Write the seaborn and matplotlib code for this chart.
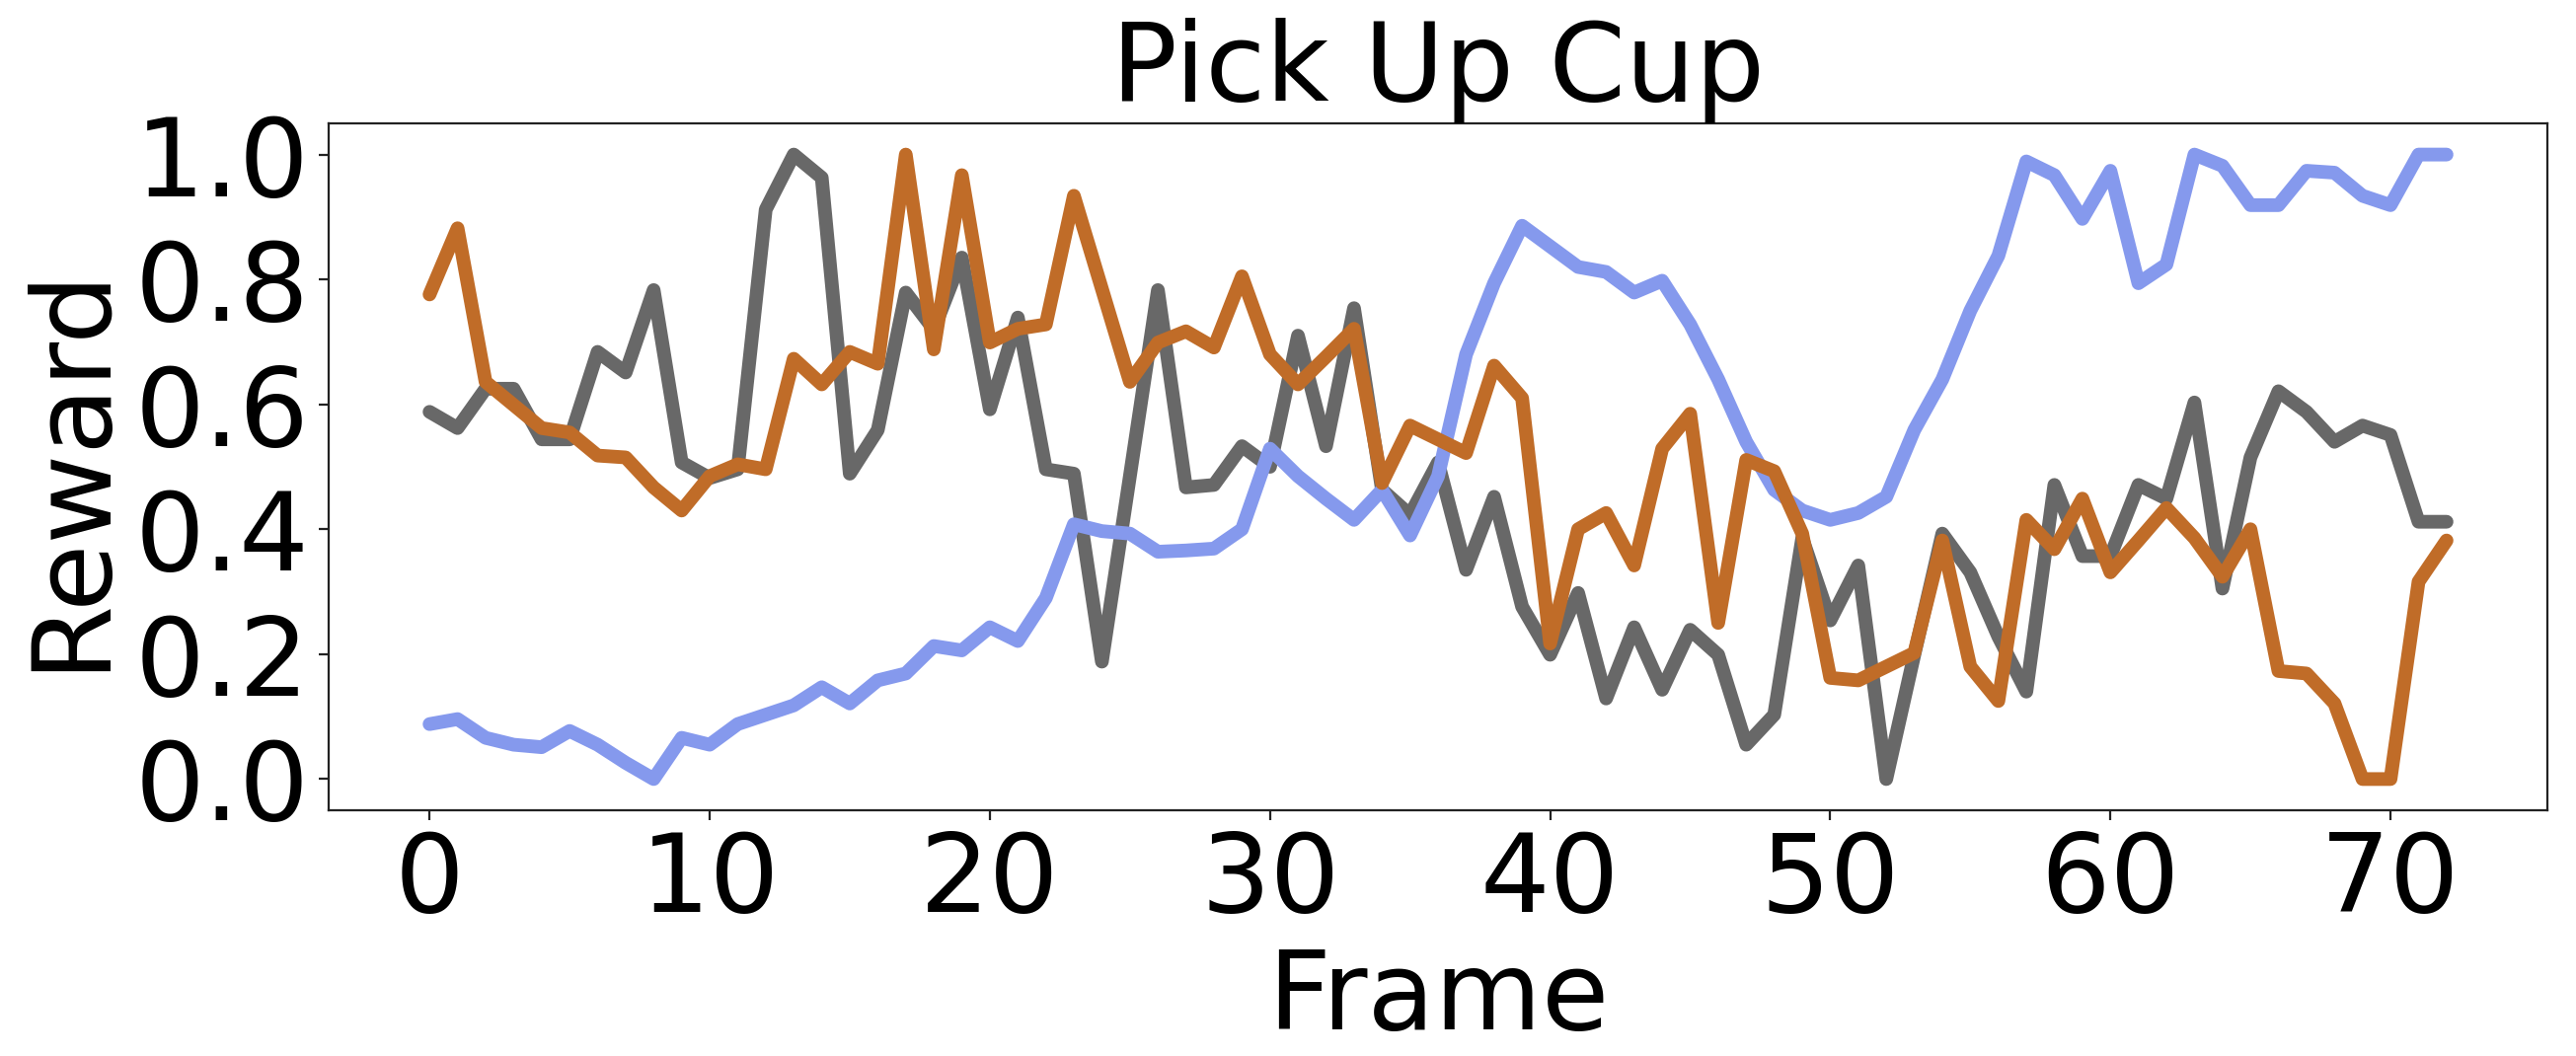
import numpy as np
import pandas as pd
import matplotlib
matplotlib.use("Agg")
import matplotlib.pyplot as plt
import seaborn as sns

frames = list(range(73))

blue_vals = [0.088, 0.096, 0.066, 0.055, 0.051, 0.077, 0.055, 0.026, 0.0, 0.066,
             0.055, 0.088, 0.103, 0.118, 0.147, 0.121, 0.158, 0.169, 0.213, 0.206,
             0.243, 0.221, 0.290, 0.408, 0.397, 0.393, 0.364, 0.366, 0.369, 0.400,
             0.529, 0.485, 0.449, 0.415, 0.463, 0.390, 0.485, 0.680, 0.794, 0.886,
             0.853, 0.820, 0.812, 0.779, 0.798, 0.728, 0.640, 0.540, 0.463, 0.430,
             0.415, 0.426, 0.452, 0.559, 0.640, 0.750, 0.838, 0.989, 0.967, 0.897,
             0.974, 0.794, 0.824, 1.0, 0.982, 0.919, 0.919, 0.974, 0.971, 0.934,
             0.919, 1.0, 1.0]

grey_vals = [0.588, 0.562, 0.625, 0.625, 0.544, 0.544, 0.684, 0.651, 0.783, 0.507,
             0.482, 0.496, 0.912, 1.0, 0.963, 0.489, 0.559, 0.779, 0.720, 0.835,
             0.592, 0.739, 0.496, 0.489, 0.188, 0.485, 0.783, 0.467, 0.471, 0.533,
             0.500, 0.710, 0.533, 0.754, 0.463, 0.423, 0.507, 0.335, 0.452, 0.276,
             0.199, 0.298, 0.129, 0.243, 0.143, 0.239, 0.199, 0.055, 0.103, 0.386,
             0.254, 0.342, 0.0, 0.199, 0.393, 0.331, 0.228, 0.140, 0.471, 0.357,
             0.357, 0.471, 0.449, 0.603, 0.305, 0.515, 0.621, 0.588, 0.540, 0.566,
             0.551, 0.412, 0.412]

orange_vals = [0.776, 0.882, 0.636, 0.599, 0.562, 0.555, 0.518, 0.515, 0.467, 0.430,
               0.485, 0.504, 0.496, 0.673, 0.632, 0.684, 0.665, 1.0, 0.688, 0.967,
               0.699, 0.721, 0.728, 0.934, 0.785, 0.636, 0.699, 0.717, 0.691, 0.805,
               0.680, 0.632, 0.676, 0.721, 0.474, 0.566, 0.544, 0.522, 0.662, 0.610,
               0.217, 0.400, 0.426, 0.342, 0.529, 0.585, 0.250, 0.511, 0.493, 0.393,
               0.162, 0.158, 0.180, 0.202, 0.382, 0.180, 0.125, 0.415, 0.368, 0.449,
               0.331, 0.382, 0.434, 0.386, 0.324, 0.400, 0.173, 0.169, 0.121, 0.0,
               0.0, 0.316, 0.382]

series_names = ["Grey", "Blue", "Orange"]
series_colors = {"Grey": "#686868", "Blue": "#8599ED", "Orange": "#C06C28"}

title = "Pick Up Cup"
xlabel = "Frame"
ylabel = "Reward"

df = pd.concat([
    pd.DataFrame({"Frame": frames, "Reward": grey_vals, "Series": "Grey"}),
    pd.DataFrame({"Frame": frames, "Reward": blue_vals, "Series": "Blue"}),
    pd.DataFrame({"Frame": frames, "Reward": orange_vals, "Series": "Orange"}),
], ignore_index=True)

sns.set_style("ticks", {
    "axes.edgecolor": "#222222",
    "xtick.color": "#222222",
    "ytick.color": "#222222",
    "text.color": "black",
    "axes.labelcolor": "black",
})
plt.rcParams["font.family"] = ["DejaVu Sans"]

fig, ax = plt.subplots(figsize=(13.05, 5.35), dpi=200)
fig.subplots_adjust(left=0.1276, right=0.9889, bottom=0.2327, top=0.8832)

sns.lineplot(data=df, x="Frame", y="Reward", hue="Series", hue_order=series_names,
             palette=series_colors, linewidth=5, legend=False, ax=ax)

ax.set_title(title, fontsize=40, pad=0)
ax.set_xlabel(xlabel, fontsize=40)
ax.set_ylabel(ylabel, fontsize=40)
ax.tick_params(axis="both", labelsize=40, length=3.5, width=0.8, colors="#222222",
               labelcolor="black")
ax.set_xticks([0, 10, 20, 30, 40, 50, 60, 70])
ax.set_yticks([0.0, 0.2, 0.4, 0.6, 0.8, 1.0])
ax.set_yticklabels(["0.0", "0.2", "0.4", "0.6", "0.8", "1.0"])
ax.set_xlim(-3.6, 75.6)
ax.set_ylim(-0.05, 1.05)
for s in ax.spines.values():
    s.set_visible(True)
    s.set_linewidth(0.8)

fig.savefig("out.png", dpi=200)
